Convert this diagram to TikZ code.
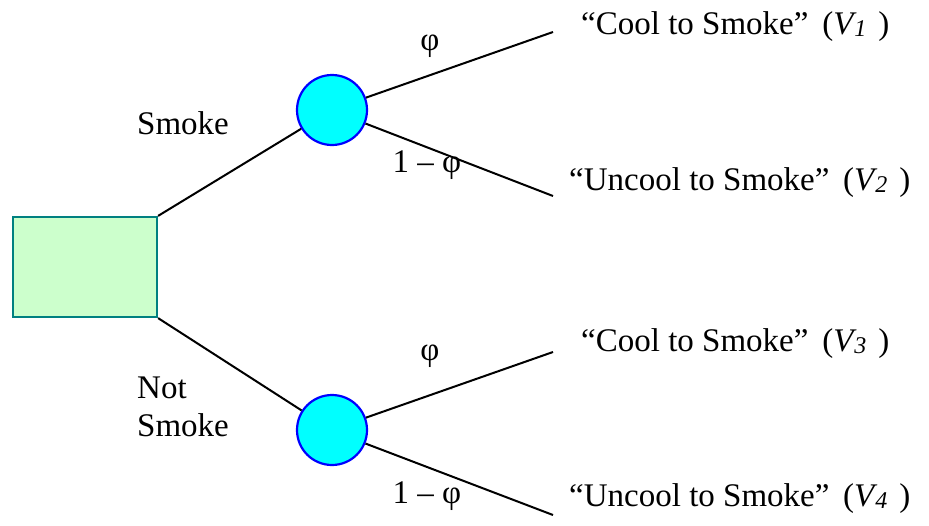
\documentclass[tikz,border=0pt]{standalone}
\usepackage{fontspec}
\setmainfont{Liberation Serif}
\definecolor{boxfill}{HTML}{CCFFCC}
\definecolor{boxline}{HTML}{008080}
\definecolor{chancefill}{HTML}{00FFFF}
\definecolor{chanceline}{HTML}{0000FF}
\newcommand{\vsub}[1]{\textit{V\kern1pt\raisebox{-1.5pt}{\fontsize{24}{24}\selectfont #1}}\hspace{12pt}}
\begin{document}
\begin{tikzpicture}[x=1pt,y=-1pt,
  decision/.style={draw=boxline,fill=boxfill,line width=2.2pt,minimum width=144pt,minimum height=100pt,inner sep=0pt},
  chance/.style={circle,draw=chanceline,fill=chancefill,line width=2.2pt,minimum size=70pt,inner sep=0pt},
  branch/.style={line width=2pt,black},
  lbl/.style={font=\fontsize{33}{38}\selectfont,inner sep=0pt},
  outcome/.style={font=\fontsize{33}{38}\selectfont,inner sep=0pt,anchor=west}]
\useasboundingbox (0,0) rectangle (929,525);
\node[decision] (d) at (85,267) {};
\node[chance] (c1) at (332,110) {};
\node[chance] (c2) at (332,430) {};
\coordinate (e1) at (553,32);
\coordinate (e2) at (553,196);
\coordinate (e3) at (553,352);
\coordinate (e4) at (553,515);
\draw[branch] (d.north east) -- (c1);
\draw[branch] (d.south east) -- (c2);
\draw[branch] (c1.20) -- (e1);
\draw[branch] (c1.-22) -- (e2);
\draw[branch] (c2.20) -- (e3);
\draw[branch] (c2.-22) -- (e4);
\node[lbl,anchor=west] (s) at (137,123) {Smoke};
\node[lbl,align=left,anchor=west] (ns) at (137,407) {Not\\Smoke};
\node[lbl] (p1) at (430,46) {φ};
\node[lbl] (q1) at (427,165) {1 – φ};
\node[lbl] (p2) at (430,356) {φ};
\node[lbl] (q2) at (427,496) {1 – φ};
\node[outcome] (o1) at (581,27) {“Cool to Smoke”\ \,(\vsub{1})};
\node[outcome] (o2) at (569,183) {“Uncool to Smoke”\ \,(\vsub{2})};
\node[outcome] (o3) at (581,344) {“Cool to Smoke”\ \,(\vsub{3})};
\node[outcome] (o4) at (569,499) {“Uncool to Smoke”\ \,(\vsub{4})};
\end{tikzpicture}
\end{document}
